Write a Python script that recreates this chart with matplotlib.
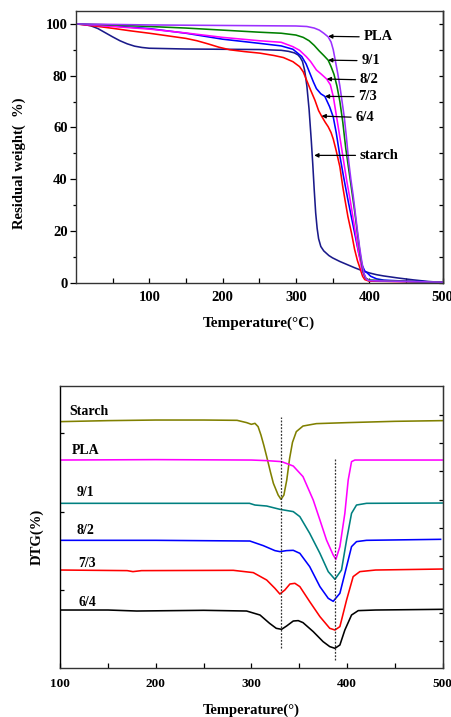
import matplotlib

matplotlib.use("Agg")

import matplotlib.pyplot as plt

plt.rcParams["font.family"] = ["Liberation Serif", "DejaVu Serif"]
plt.rcParams["font.weight"] = "bold"

# --- TGA (residual weight, %) ---
tga_starch_t = [0, 10, 20, 30, 40, 50, 60, 70, 80, 90, 100, 150, 200, 250, 280, 290, 298, 303,
                306, 309, 312, 315, 318, 321, 323, 325, 327, 329, 331, 334, 338, 345, 350, 360,
                370, 380, 390, 400, 410, 420, 440, 460, 480, 500]
tga_starch_w = [100, 99.8, 99.3, 98.2, 96.6, 95, 93.5, 92.3, 91.4, 90.9, 90.6, 90.3, 90.2, 90.1,
                89.8, 89.4, 88.8, 88, 87, 85.5, 82, 76, 67, 55, 46, 36, 27, 21, 17, 14, 12.3,
                10.5, 9.6, 8.2, 7, 5.8, 4.7, 3.8, 3.1, 2.6, 1.8, 1.1, 0.5, 0.1]

tga_pla_t = [0, 50, 100, 150, 200, 250, 300, 315, 325, 332, 338, 344, 348, 351, 354, 357, 360,
             363, 366, 369, 372, 375, 378, 381, 384, 387, 390, 393, 396, 400, 450, 500]
tga_pla_w = [100, 99.8, 99.6, 99.5, 99.4, 99.3, 99.2, 99, 98.4, 97.6, 96.4, 95, 93, 90, 85.5, 81,
             76, 70, 64, 56, 47, 40, 34, 27, 20, 13.5, 8, 3.5, 1.5, 0.8, 0.5, 0.2]

tga_91_t = [0, 50, 100, 150, 200, 250, 280, 300, 310, 318, 325, 332, 338, 344, 348, 352, 356,
            360, 364, 368, 372, 376, 380, 384, 388, 392, 395, 400, 450, 500]
tga_91_w = [100, 99.6, 99, 98.4, 97.6, 96.8, 96.4, 95.7, 94.8, 93.5, 91.7, 89.5, 87.8, 86, 83.5,
            80.5, 76, 70, 62, 52, 44, 36, 28, 19, 10.5, 4, 1.8, 1, 0.5, 0.2]

tga_82_t = [0, 50, 100, 150, 200, 250, 280, 296, 305, 314, 320, 328, 335, 342, 347, 351, 355,
            359, 364, 369, 374, 378, 382, 386, 390, 394, 398, 420, 500]
tga_82_w = [100, 99, 98, 96.5, 94.8, 93.5, 92.9, 91.2, 89.8, 87.4, 85.5, 82.2, 80.5, 78.7, 76.5,
            72, 65, 58, 49, 40, 32, 25, 18, 11, 5, 2, 1, 0.6, 0.2]

tga_73_t = [0, 50, 100, 150, 200, 250, 280, 296, 308, 314, 319, 324, 328, 334, 339.5, 346, 351,
            355, 360, 365, 371, 376, 381, 386, 390, 394, 398, 402, 410, 420, 450, 500]
tga_73_w = [100, 99.2, 98.2, 96.4, 94.1, 92.5, 91.5, 90.2, 87.4, 84.5, 81, 77.5, 75, 73, 72, 68,
            64, 58, 49, 41, 32, 25, 18, 11, 7, 4.5, 3.6, 2.5, 1.5, 1, 0.6, 0.2]

tga_64_t = [0, 25, 50, 75, 100, 125, 150, 165, 180, 195, 210, 230, 251, 270, 283, 296, 305, 310,
            315, 320, 326, 331, 335, 340, 344, 348, 351, 355, 360, 364, 367, 371, 376, 380, 384,
            387, 391, 394, 400, 450, 500]
tga_64_w = [100, 99.2, 98.3, 97.3, 96.4, 95.4, 94.4, 93.5, 92.3, 91, 90, 89.3, 88.7, 87.8, 87,
            85.4, 83.5, 81.5, 78, 74.5, 70.5, 66.5, 64.4, 62, 60.3, 58, 55.5, 51, 44.8, 37, 32,
            25.5, 19, 13, 8.5, 6, 2.5, 1.2, 0.6, 0.4, 0.2]

# (label, arrow tip T, arrow tip W, text T, text W)
tga_notes = [
    ("PLA", 344, 95.2, 392, 95.0),
    ("9/1", 344, 86.0, 389, 85.8),
    ("8/2", 342, 78.7, 387, 78.4),
    ("7/3", 339.5, 72.0, 385, 71.9),
    ("6/4", 335, 64.4, 381, 63.9),
    ("starch", 325, 49.2, 387, 49.2),
]

# --- DTG (arbitrary units, curves stacked) ---
dtg_starch_t = [100, 150, 200, 250, 285, 295, 300, 303.7, 307, 310, 313, 316, 320, 323, 328,
                331, 334, 337, 340, 343, 347, 354, 368, 400, 450, 500]
dtg_starch_v = [246.7, 247.7, 248.3, 248.3, 248, 245.7, 244, 245, 241.7, 233.3, 223, 211.7, 196,
                185, 173.3, 169, 173.3, 188.3, 210, 226, 236.7, 242.3, 244.7, 245.7, 247, 247.7]

dtg_pla_t = [100, 200, 300, 316, 331.6, 343.8, 354, 364.7, 371.7, 378.6, 385.6, 388.4, 392.6,
             397.8, 401.3, 404.8, 408.3, 450, 500]
dtg_pla_v = [208.3, 208.7, 208.3, 207.7, 206.7, 202.3, 191.7, 168.3, 148.3, 128.3, 113.3, 109,
             121.7, 155, 188.3, 206.7, 208.3, 208.3, 208.3]

dtg_91_t = [100, 200, 298, 303.7, 316, 329.8, 343.8, 350.7, 361, 371.7, 380.4, 387.4, 394.3,
            399.6, 404.8, 410, 420.5, 500]
dtg_91_v = [165, 165, 165, 163.3, 162.3, 159, 156.7, 151.7, 135, 115, 96.7, 89, 98.3, 128.3,
            155, 163.3, 165, 165.3]

dtg_82_t = [100, 200, 298.4, 312.4, 324.6, 329.8, 336.8, 343.8, 350.7, 361, 371.7, 380.4,
            385.6, 392.6, 399.6, 404.8, 410, 420.5, 498]
dtg_82_v = [128, 128, 127.3, 122.7, 117.7, 116.7, 117.7, 118, 115, 101.7, 81.7, 70, 67, 75,
            101.7, 121.7, 126.7, 128, 129]

dtg_73_t = [100, 170, 176, 185, 281, 302, 316, 324.6, 329.8, 335, 340.3, 345.5, 350.7, 361,
            371.7, 382, 387.4, 392.6, 399.6, 406.5, 413.5, 430, 500]
dtg_73_v = [98.3, 97.7, 96.7, 97.7, 98, 95.7, 88.3, 80, 74.3, 78.3, 84.3, 85, 81.7, 66.7, 51.7,
            40, 38.3, 41.7, 68.3, 91.7, 96.7, 98.3, 99.3]

dtg_64_t = [100, 150, 180, 250, 295, 309, 319, 326, 331.6, 336.8, 343.8, 349, 354, 364.7, 375,
            382, 387.4, 392.6, 397.8, 404.8, 411.8, 430, 500]
dtg_64_v = [58.3, 58.3, 57.3, 58, 57.3, 53.3, 45, 40, 39, 42.3, 47.3, 47.7, 45.7, 36.7, 26.7,
            21.7, 20, 23.3, 38.3, 53.3, 57.7, 58.3, 59]

dtg_labels = ["Starch", "PLA", "9/1", "8/2", "7/3", "6/4"]
dtg_label_t = [109, 112, 117, 117, 119, 119]
dtg_label_v = [256.7, 218.3, 176, 137.7, 105, 66]

peak1_t, peak1_v = 331, (20, 251.7)
peak2_t, peak2_v = 387.4, (8.3, 209.3)

fig = plt.figure(figsize=(4.52, 7.17), dpi=100)

# ---------------- top: TGA ----------------
ax1 = fig.add_axes([0.168, 0.6057, 0.811, 0.379])
lw = 1.15
ax1.plot(tga_starch_t, tga_starch_w, color="#1a1a8a", lw=lw)
ax1.plot(tga_64_t, tga_64_w, color="#ff0000", lw=lw)
ax1.plot(tga_73_t, tga_73_w, color="#0000ff", lw=lw)
ax1.plot(tga_82_t, tga_82_w, color="#ff00ff", lw=lw)
ax1.plot(tga_91_t, tga_91_w, color="#008000", lw=lw)
ax1.plot(tga_pla_t, tga_pla_w, color="#9b30ff", lw=lw)

for label, tx, tw, lx, lw_ in tga_notes:
    ax1.annotate(
        label, xy=(tx, tw), xytext=(lx, lw_), ha="left", va="center",
        fontsize=10.5, fontweight="bold",
        arrowprops=dict(arrowstyle="-|>", color="black", lw=0.9, mutation_scale=6,
                        shrinkA=1, shrinkB=0, relpos=(0, 0.5)),
    )

ax1.set_xlim(0, 500)
ax1.set_ylim(0, 105)
ax1.set_xticks(range(50, 501, 50))
ax1.set_xticklabels(["" if v % 100 else str(v) for v in range(50, 501, 50)])
ax1.set_yticks(range(0, 101, 20))
ax1.set_yticks(range(10, 101, 20), minor=True)
ax1.tick_params(axis="x", direction="in", length=3.5, width=0.9, labelsize=10.5, pad=6)
ax1.tick_params(axis="y", which="major", direction="out", length=4, width=0.9, labelsize=10.5, pad=2)
ax1.tick_params(axis="y", which="minor", direction="out", length=2.5, width=0.9)
sec1 = ax1.secondary_yaxis("right")
sec1.set_yticks(range(0, 101, 10))
sec1.tick_params(direction="in", length=3, width=0.9, labelright=False)
sec1.spines["right"].set_linewidth(1.0)
for s in ax1.spines.values():
    s.set_linewidth(1.0)
    s.set_color("#333333")
ax1.set_xlabel("Temperature(\u00b0C)", fontsize=11, fontweight="bold", labelpad=9)
ax1.set_ylabel("Residual weight(  %)", fontsize=10.5, fontweight="bold")
ax1.yaxis.set_label_coords(-0.135, 0.44)

# ---------------- bottom: DTG ----------------
ax2 = fig.add_axes([0.1334, 0.0679, 0.8456, 0.3937])
ax2.plot(dtg_starch_t, dtg_starch_v, color="#808000", lw=lw)
ax2.plot(dtg_pla_t, dtg_pla_v, color="#ff00ff", lw=lw)
ax2.plot(dtg_91_t, dtg_91_v, color="#008080", lw=lw)
ax2.plot(dtg_82_t, dtg_82_v, color="#0000ff", lw=lw)
ax2.plot(dtg_73_t, dtg_73_v, color="#ff0000", lw=lw)
ax2.plot(dtg_64_t, dtg_64_v, color="#000000", lw=lw)
ax2.vlines(peak1_t, *peak1_v, colors="#333333", linestyles=(0, (1.5, 1.2)), lw=0.9)
ax2.vlines(peak2_t, *peak2_v, colors="#333333", linestyles=(0, (1.5, 1.2)), lw=0.9)

for label, t, v in zip(dtg_labels, dtg_label_t, dtg_label_v):
    ax2.text(t, v, label, ha="left", va="center", fontsize=10, fontweight="bold")

ax2.set_xlim(100, 500)
ax2.set_ylim(0, 282.3)
ax2.set_xticks(range(100, 501, 100))
ax2.set_xticks(range(150, 500, 100), minor=True)
ax2.tick_params(axis="x", which="both", direction="in", length=3.5, width=0.9, labelsize=9.5, pad=7)
ax2.set_yticks([78.3, 156.7, 235])
ax2.set_yticklabels([])
ax2.tick_params(axis="y", direction="in", length=3, width=0.9)
sec2 = ax2.secondary_yaxis("right")
sec2.set_yticks([27.3 + 28.3 * k for k in range(9)])
sec2.tick_params(direction="in", length=3, width=0.9, labelright=False)
for s in ax2.spines.values():
    s.set_linewidth(1.0)
    s.set_color("#333333")
ax2.spines["left"].set_color("black")
ax2.set_xlabel("Temperature(\u00b0)", fontsize=10.5, fontweight="bold", labelpad=10)
ax2.set_ylabel("DTG(%)", fontsize=10.5, fontweight="bold")
ax2.yaxis.set_label_coords(-0.043, 0.465)

fig.savefig("out.png", dpi=100)
